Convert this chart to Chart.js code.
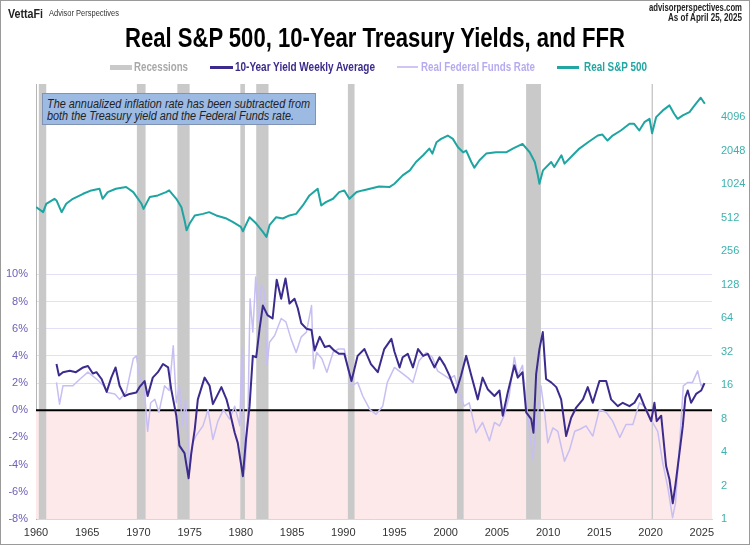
<!DOCTYPE html>
<html>
<head>
<meta charset="utf-8">
<script src="https://cdn.jsdelivr.net/npm/chart.js@4.4.1/dist/chart.umd.min.js"></script>
<style>
  html, body { margin: 0; padding: 0; background: #fff; }
  #wrap { position: relative; width: 750px; height: 545px; overflow: hidden; font-family: "Liberation Sans", Arial, sans-serif; }
  #c { position: absolute; left: 0; top: 0; }
  #frame { position: absolute; left: 0; top: 0; width: 750px; height: 545px; box-sizing: border-box; border: 1px solid #9a9a9a; pointer-events: none; }
  .t { position: absolute; white-space: nowrap; line-height: 1; transform-origin: 0 0; }
  .mark { position: absolute; }
  #note { position: absolute; left: 42px; top: 93px; width: 274px; height: 32px; box-sizing: border-box; background: #9dbbe2; border: 1px solid #8093b3; }
</style>
</head>
<body>
<div id="wrap">
  <canvas id="c" width="750" height="545"></canvas>

  <div class="t" data-w="35" style="left:8px;top:6.5px;font-size:13px;font-weight:bold;color:#222">VettaFi</div>
  <div class="t" data-w="70" style="left:49px;top:9px;font-size:9px;color:#333">Advisor Perspectives</div>
  <div class="t" data-w="93" style="left:649px;top:2.5px;font-size:10px;font-weight:bold;color:#222">advisorperspectives.com</div>
  <div class="t" data-w="74" style="left:668px;top:13px;font-size:10px;font-weight:bold;color:#222">As of April 25, 2025</div>

  <div class="t" data-w="500" style="left:125px;top:24.5px;font-size:27px;font-weight:bold;color:#000">Real S&amp;P 500, 10-Year Treasury Yields, and FFR</div>

  <div class="mark" style="left:110px;top:64.5px;width:22px;height:5px;background:#c9c9c9"></div>
  <div class="t" data-w="54" style="left:134px;top:61px;font-size:12px;font-weight:bold;color:#a8a8a8">Recessions</div>
  <div class="mark" style="left:210px;top:65.5px;width:23px;height:3px;background:#3c2b8d"></div>
  <div class="t" data-w="140" style="left:235px;top:61px;font-size:12px;font-weight:bold;color:#3c2b8d">10-Year Yield Weekly Average</div>
  <div class="mark" style="left:397px;top:66px;width:21px;height:2px;background:#cfc6f5"></div>
  <div class="t" data-w="114" style="left:421px;top:61px;font-size:12px;font-weight:bold;color:#b7abf0">Real Federal Funds Rate</div>
  <div class="mark" style="left:557px;top:65.5px;width:22px;height:3px;background:#22a6a2"></div>
  <div class="t" data-w="63" style="left:584px;top:61px;font-size:12px;font-weight:bold;color:#22a6a2">Real S&amp;P 500</div>

  <div id="note"></div>
  <div class="t" data-w="263" style="left:47px;top:97.5px;font-size:12px;font-style:italic;color:#222">The annualized inflation rate has been subtracted from</div>
  <div class="t" data-w="247" style="left:47px;top:110px;font-size:12px;font-style:italic;color:#222">both the Treasury yield and the Federal Funds rate.</div>

  <div id="frame"></div>
</div>
<script>
// Recessions (start, end as decimal years)
const recessions = [
  [1960.25, 1961.0], [1969.85, 1970.7], [1973.8, 1975.0], [1979.95, 1980.4],
  [1981.5, 1982.7], [1990.45, 1991.1], [2001.1, 2001.75], [2007.85, 2009.3],
  [2020.1, 2020.25],
];

// 10-Year Treasury, real yield (%)
const yieldYears = [
  1962.0, 1962.24, 1962.63, 1963.3, 1963.9, 1964.6, 1965.07, 1965.55, 1965.9, 1966.4,
  1966.9, 1967.35, 1967.77, 1968.16, 1968.65, 1969.14, 1969.8, 1970.1, 1970.6, 1970.9,
  1971.4, 1971.9, 1972.4, 1972.9, 1973.2, 1973.7, 1974.0, 1974.5, 1974.9, 1975.16,
  1975.5, 1975.8, 1976.46, 1976.95, 1977.27, 1978.1, 1978.6, 1978.9, 1979.4, 1979.7,
  1980.2, 1980.5, 1980.85, 1981.17, 1981.5, 1981.83, 1982.15, 1982.6, 1983.1, 1983.5,
  1983.94, 1984.36, 1984.75, 1985.24, 1985.56, 1985.9, 1986.4, 1986.9, 1987.2, 1987.7,
  1988.2, 1988.65, 1989.1, 1989.6, 1990.1, 1990.8, 1991.4, 1992.07, 1992.7, 1993.37,
  1994.0, 1994.7, 1995.0, 1995.5, 1995.8, 1996.3, 1996.8, 1997.3, 1997.8, 1998.25,
  1998.9, 1999.4, 1999.9, 2000.37, 2001.0, 2001.5, 2002.0, 2002.5, 2003.13, 2003.6,
  2004.1, 2004.76, 2005.25, 2005.57, 2006.06, 2006.7, 2007.04, 2007.5, 2007.86, 2008.35,
  2008.57, 2008.83, 2009.15, 2009.48, 2009.8, 2010.3, 2010.8, 2011.27, 2011.76, 2012.25,
  2012.74, 2013.4, 2013.87, 2014.36, 2015.01, 2015.67, 2016.15, 2016.8, 2017.29, 2017.94,
  2018.43, 2018.92, 2019.4, 2020.06, 2020.38, 2020.6, 2021.04, 2021.2, 2021.52, 2021.85,
  2022.17, 2022.43, 2022.82, 2023.15, 2023.4, 2023.63, 2023.96, 2024.45, 2024.94, 2025.27,
];
const yieldValues = [
  3.4, 2.55, 2.8, 2.9, 2.8, 3.15, 3.25, 2.7, 2.8, 2.3,
  1.35, 2.4, 3.15, 1.8, 1.05, 1.2, 1.3, 1.7, 2.15, 1.05,
  2.4, 2.8, 3.4, 3.15, 1.55, -0.4, -2.6, -3.15, -5.0, -3.15,
  -1.4, 0.8, 2.4, 1.8, 0.45, 1.7, 0.8, -0.05, -1.65, -2.4,
  -4.85, -2.15, 0.3, 4.0, 3.9, 6.0, 7.7, 7.0, 6.75, 9.6,
  8.2, 9.7, 7.85, 8.2, 7.5, 6.4, 6.0, 5.9, 4.4, 5.4,
  4.65, 4.75, 4.4, 4.15, 4.15, 2.15, 4.0, 4.5, 3.4, 2.8,
  4.5, 5.25, 4.3, 3.15, 3.9, 4.15, 3.15, 4.5, 4.0, 4.15,
  3.15, 3.9, 3.3, 2.55, 1.3, 2.55, 4.0, 2.55, 0.8, 2.4,
  1.55, 1.05, 1.45, -0.4, 1.3, 3.3, 2.4, 2.8, -0.15, -0.65,
  -1.65, 2.65, 4.5, 5.75, 2.3, 2.05, 1.7, 0.8, -1.9, -0.55,
  0.2, 0.8, 1.7, 0.55, 2.15, 2.15, 0.8, 0.3, 0.55, 0.3,
  0.55, 1.2, 0.3, -0.8, 0.55, -0.8, -0.4, -1.65, -4.1, -5.1,
  -6.85, -5.5, -3.15, -1.15, 0.95, 1.45, 0.55, 1.2, 1.45, 2.0,
];

// Real Federal Funds Rate (%)
const ffrYears = [
  1962.0, 1962.3, 1962.63, 1963.6, 1964.3, 1965.07, 1965.9, 1966.6, 1967.0, 1967.7,
  1968.16, 1968.8, 1969.5, 1969.8, 1970.1, 1970.6, 1970.9, 1971.2, 1971.6, 1972.0,
  1972.55, 1973.0, 1973.4, 1973.7, 1974.0, 1974.3, 1974.6, 1975.0, 1975.3, 1975.6,
  1976.3, 1976.8, 1977.27, 1977.76, 1978.3, 1978.9, 1979.4, 1979.9, 1980.1, 1980.4,
  1980.7, 1980.9, 1981.17, 1981.45, 1981.7, 1982.0, 1982.3, 1982.55, 1982.8, 1983.3,
  1983.94, 1984.4, 1984.9, 1985.4, 1985.9, 1986.4, 1986.9, 1987.1, 1987.4, 1987.9,
  1988.4, 1989.0, 1989.5, 1990.1, 1990.8, 1991.4, 1991.9, 1992.6, 1993.2, 1993.85,
  1994.3, 1995.0, 1995.6, 1996.3, 1996.8, 1997.4, 1998.1, 1998.7, 1999.2, 1999.9,
  2000.37, 2000.85, 2001.35, 2001.8, 2002.3, 2002.96, 2003.6, 2004.27, 2004.76, 2005.25,
  2005.7, 2006.2, 2006.7, 2007.04, 2007.5, 2007.86, 2008.2, 2008.5, 2008.83, 2009.3,
  2009.65, 2009.97, 2010.46, 2010.95, 2011.6, 2012.1, 2012.6, 2013.1, 2013.7, 2014.36,
  2015.01, 2015.67, 2016.3, 2017.0, 2017.6, 2018.27, 2018.92, 2019.4, 2019.9, 2020.2,
  2020.7, 2021.2, 2021.7, 2022.15, 2022.43, 2022.82, 2023.2, 2023.63, 2024.1, 2024.6,
  2024.94, 2025.27,
];
const ffrValues = [
  2.05, 0.45, 1.8, 1.8, 2.3, 2.8, 2.3, 1.8, 1.3, 1.2,
  0.8, 1.3, 3.8, 4.0, 2.55, 1.3, -1.55, 0.55, 0.8, -0.15,
  1.8, 1.45, 4.75, 0.55, 1.8, -1.15, 0.8, -4.35, -2.4, -1.9,
  -1.15, 0.05, -2.15, -0.8, 0.05, -0.65, 0.3, -1.15, 4.5, -4.35,
  -0.15, 8.2, 5.75, 9.8, 6.5, 9.2, 8.7, 3.3, 5.0, 5.5,
  6.75, 6.5, 5.25, 4.25, 5.4, 5.75, 7.7, 3.05, 4.25, 3.8,
  2.8, 4.25, 4.5, 4.5, 1.8, 2.05, 1.05, 0.05, -0.3, 0.3,
  2.05, 3.15, 2.8, 2.4, 2.05, 3.65, 4.25, 3.9, 2.9, 2.55,
  2.3, 2.55, 1.3, 0.3, 0.55, -1.65, -0.9, -2.25, -0.9, -1.15,
  -0.4, 1.05, 3.9, 2.55, 3.3, 0.55, -1.65, -3.65, -1.15, 1.8,
  -0.15, -2.4, -1.3, -1.55, -3.75, -2.9, -1.55, -1.4, -1.15, -1.9,
  0.05, -0.15, -0.8, -2.0, -1.05, -1.05, 0.55, 0.3, -0.4, -0.9,
  -1.55, -3.9, -5.75, -7.9, -6.85, -2.65, 1.8, 2.05, 2.05, 2.9,
  1.8, 1.95,
];

// Real S&P 500 (index, log scale)
const spYears = [
  1960.0, 1960.7, 1961.0, 1961.8, 1962.0, 1962.5, 1962.95, 1963.6, 1964.6, 1965.4,
  1966.2, 1966.5, 1967.0, 1967.8, 1968.8, 1969.5, 1970.3, 1970.5, 1971.1, 1971.9,
  1972.7, 1973.0, 1973.7, 1974.2, 1974.5, 1974.7, 1975.0, 1975.5, 1976.3, 1976.9,
  1977.6, 1978.6, 1979.2, 1980.0, 1980.2, 1980.85, 1981.5, 1982.15, 1982.5, 1982.8,
  1983.45, 1984.1, 1984.75, 1985.4, 1986.05, 1986.7, 1987.5, 1987.85, 1988.3, 1989.0,
  1989.6, 1990.1, 1990.6, 1991.3, 1991.9, 1992.6, 1993.5, 1994.5, 1995.0, 1995.8,
  1996.5, 1997.1, 1997.8, 1998.4, 1998.7, 1999.1, 1999.55, 2000.2, 2000.7, 2001.2,
  2001.7, 2002.0, 2002.5, 2002.8, 2003.3, 2003.95, 2004.9, 2005.9, 2006.55, 2007.5,
  2008.2, 2008.7, 2009.0, 2009.15, 2009.5, 2010.3, 2010.6, 2011.3, 2011.6, 2012.4,
  2013.05, 2013.9, 2014.85, 2015.3, 2015.8, 2016.3, 2017.1, 2017.95, 2018.4, 2018.9,
  2019.4, 2019.9, 2020.15, 2020.55, 2021.2, 2021.85, 2022.3, 2022.65, 2023.15, 2023.8,
  2024.3, 2024.9, 2025.3,
];
const spValues = [
  639, 576, 685, 760, 734, 576, 685, 760, 843, 904,
  936, 760, 873, 936, 969, 873, 685, 617, 787, 815,
  873, 904, 760, 639, 488, 396, 455, 538, 556, 576,
  538, 505, 471, 425, 388, 519, 455, 383, 345, 440,
  519, 505, 538, 556, 662, 815, 936, 662, 709, 760,
  873, 904, 760, 873, 904, 936, 982, 969, 1038, 1235,
  1370, 1629, 1872, 2150, 1938, 2452, 2628, 2817, 2628, 2211,
  1992, 2062, 1629, 1448, 1687, 1938, 1992, 1992, 2150, 2368,
  1992, 1629, 1235, 1038, 1370, 1629, 1468, 1872, 1573, 1872,
  2150, 2452, 2817, 2876, 2540, 2817, 3126, 3590, 3590, 3126,
  3717, 3984, 2957, 4125, 4739, 5258, 4423, 3984, 4270, 4577,
  5258, 6166, 5443,
];

// Right axis tick labels
const spTicks = [1, 2, 4, 8, 16, 32, 64, 128, 256, 512, 1024, 2048, 4096];

const pairs = (xs, ys) => xs.map((x, i) => ({ x, y: ys[i] }));
const recPoints = [];
recessions.forEach(([a, b]) => {
  recPoints.push({ x: a, y: 0 }, { x: a, y: 1 }, { x: b, y: 1 }, { x: b, y: 0 });
});
const zeroLine = [{ x: 1960, y: 0 }, { x: 2026, y: 0 }];

Chart.defaults.font.family = '"Liberation Sans", Arial, sans-serif';
Chart.defaults.font.size = 11;

const chart = new Chart(document.getElementById("c").getContext("2d"), {
  type: "line",
  data: {
    datasets: [
      {
        label: "below zero",
        data: zeroLine,
        yAxisID: "y",
        borderWidth: 0,
        backgroundColor: "#fde9ea",
        fill: { value: -8 },
        order: 6,
      },
      {
        label: "Recessions",
        data: recPoints,
        yAxisID: "yRec",
        borderWidth: 0,
        backgroundColor: "#c9c9c9",
        fill: "origin",
        order: 5,
      },
      {
        label: "zero",
        data: zeroLine,
        yAxisID: "y",
        borderColor: "#000",
        borderWidth: 2,
        order: 4,
      },
      {
        label: "Real Federal Funds Rate",
        data: pairs(ffrYears, ffrValues),
        yAxisID: "y",
        borderColor: "#c7bef2",
        borderWidth: 1.5,
        order: 3,
      },
      {
        label: "Real S&P 500",
        data: pairs(spYears, spValues),
        yAxisID: "y2",
        borderColor: "#1ea5a2",
        borderWidth: 2,
        order: 2,
      },
      {
        label: "10-Year Yield Weekly Average",
        data: pairs(yieldYears, yieldValues),
        yAxisID: "y",
        borderColor: "#3c2b8d",
        borderWidth: 2,
        order: 1,
      },
    ],
  },
  options: {
    responsive: false,
    animation: false,
    elements: {
      point: { radius: 0 },
      line: { tension: 0, borderJoinStyle: "round" },
    },
    plugins: {
      legend: { display: false },
      tooltip: { enabled: false },
    },
    layout: { padding: { top: 84, left: 0, right: 0, bottom: 0 } },
    scales: {
      x: {
        type: "linear",
        min: 1960,
        max: 2026,
        ticks: {
          stepSize: 5,
          includeBounds: false,
          maxRotation: 0,
          color: "#333",
          padding: 7,
          callback: (v) => String(v),
        },
        grid: { display: false, drawTicks: false },
        border: { color: "#d8d3f2" },
        afterFit: (s) => { s.height = 26; },
      },
      y: {
        position: "left",
        min: -8,
        max: 24,
        ticks: {
          stepSize: 2,
          color: "#6d61b6",
          padding: 8,
          callback: (v) => (v <= 10 ? v + "%" : ""),
        },
        grid: {
          drawTicks: false,
          color: (c) => (c.tick && c.tick.value <= 10 ? "#e3dff6" : "rgba(0,0,0,0)"),
        },
        border: { color: "#b5b5b5" },
        afterFit: (s) => { s.width = 36; },
      },
      y2: {
        type: "logarithmic",
        position: "right",
        min: 1,
        max: 8192,
        afterBuildTicks: (s) => { s.ticks = spTicks.map((v) => ({ value: v })); },
        ticks: {
          color: "#3db2ae",
          padding: 9,
          autoSkip: false,
          callback: (v) => String(v),
        },
        grid: { display: false, drawTicks: false },
        border: { display: false },
        afterFit: (s) => { s.width = 38; },
      },
      yRec: { display: false, min: 0, max: 1 },
    },
  },
});

// squeeze the html labels to the widths in the original
document.querySelectorAll(".t").forEach((el) => {
  const w = el.getBoundingClientRect().width;
  el.style.transform = "scaleX(" + (+el.dataset.w / w) + ")";
});
</script>
</body>
</html>
